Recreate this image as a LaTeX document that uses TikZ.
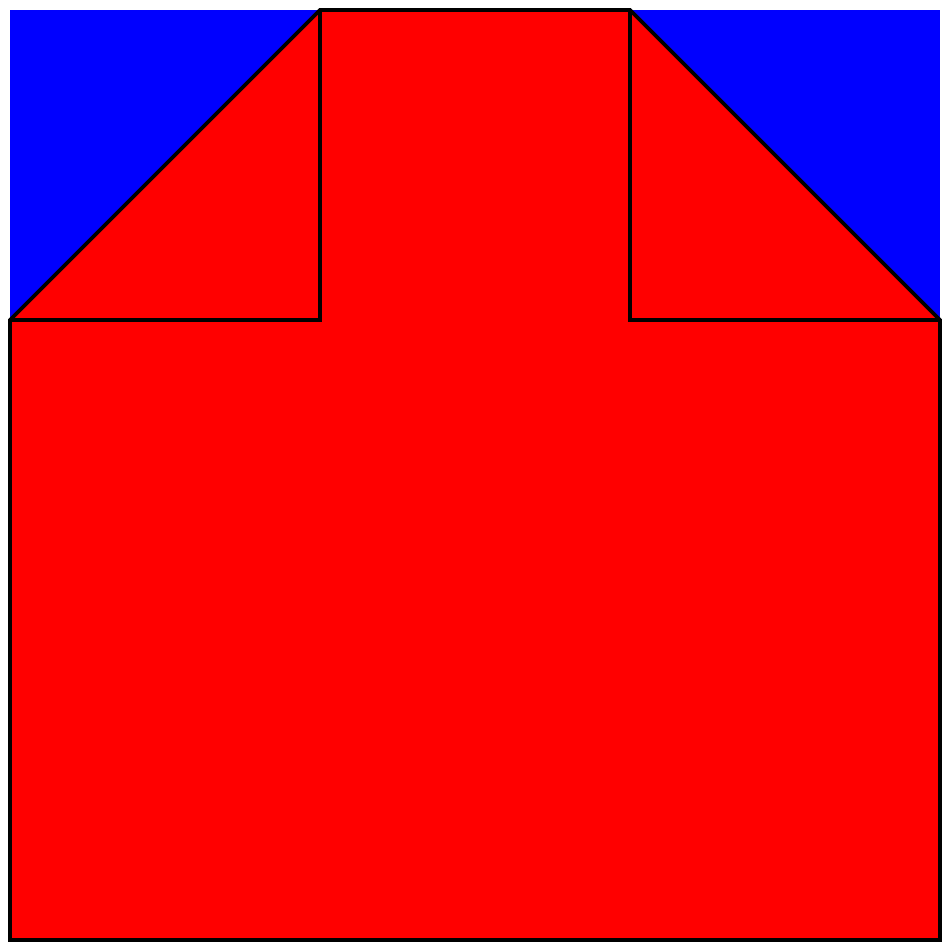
\documentclass[tikz,border=0pt]{standalone}
\begin{document}
\begin{tikzpicture}[x=0.01cm,y=-0.01cm,
  edge/.style={draw=black,line width=1.05pt,line join=miter}]
\useasboundingbox (0,0) rectangle (950,950);
\fill[blue] (10,10) rectangle (940,940);
\coordinate (a) at (10,320);
\coordinate (b) at (320,10);
\coordinate (c) at (630,10);
\coordinate (d) at (940,320);
\coordinate (e) at (940,940);
\coordinate (f) at (10,940);
\coordinate (g) at (320,320);
\coordinate (h) at (630,320);
\fill[red] (a) -- (b) -- (c) -- (d) -- (e) -- (f) -- cycle;
\draw[edge] (a) -- (b) -- (c) -- (d) -- (e) -- (f) -- cycle;
\draw[edge] (a) -- (g) -- (b);
\draw[edge] (c) -- (h) -- (d);
\end{tikzpicture}
\end{document}
